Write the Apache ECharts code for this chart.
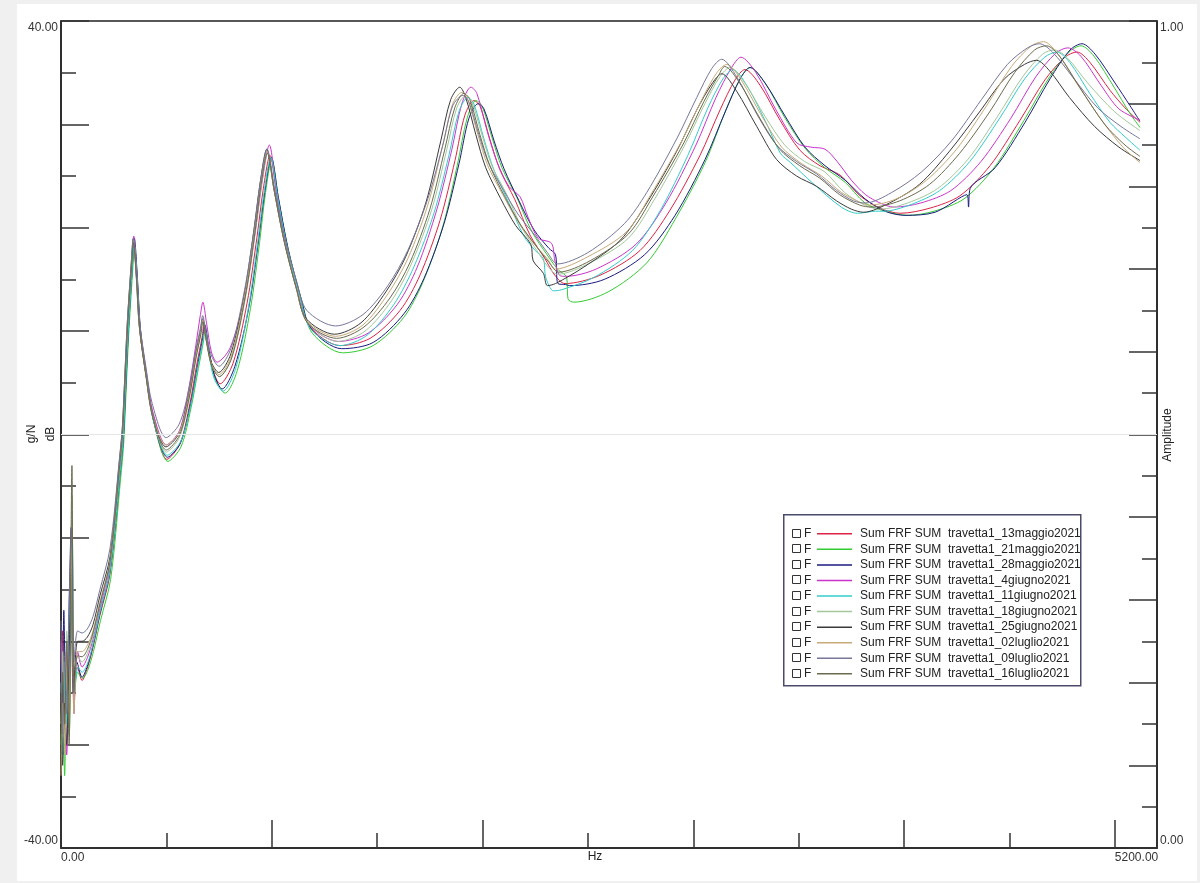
<!DOCTYPE html>
<html>
<head>
<meta charset="utf-8">
<title>FRF travetta1</title>
<script src="https://cdn.jsdelivr.net/npm/echarts@6/dist/echarts.min.js"></script>
<style>
  html, body { margin: 0; padding: 0; background: #f0f0f0; }
  #chart { position: absolute; left: 17px; top: 4px; width: 1180px; height: 877px; background: #ffffff; }
</style>
</head>
<body>
<div id="chart"></div>
<script>
// [Hz, dB] pairs
const d13maggio = [[0,-26],[8,-19],[16,-29],[26,-21],[38,-27],[52,-12],[62,-24],[80,-22.5],[104,-23.8],[130,-22.6],[158,-20.6],[192,-17.5],[242,-13.5],[291,-3.8],[306,-0.6],[316,3.6],[331,10],[350,15.9],[360,18.6],[375,15],[390,10],[424,5.2],[454,1.6],[523,-2.4],[587,-0.9],[636,3],[671,6.9],[696,9.4],[706,10.7],[725,8.4],[750,6.2],[785,4.9],[849,6.9],[918,12.7],[967,19.1],[997,23.6],[1031,27],[1066,23],[1115,18.1],[1179,13.3],[1229,10.4],[1377,8.6],[1525,9.3],[1673,12],[1771,15.4],[1870,20.7],[1944,26.5],[1993,30.9],[2038,32.3],[2067,31.8],[2117,28.5],[2166,25.6],[2240,22.7],[2314,19.3],[2388,17],[2437,15.4],[2487,14.6],[2659,15.4],[2857,17.8],[3005,21.7],[3153,27],[3252,31.4],[3326,34.3],[3375,35.3],[3449,33.8],[3548,30.4],[3646,27.5],[3745,26],[3844,25.1],[3942,23.1],[4041,21.9],[4140,21.4],[4288,21.9],[4436,23.1],[4584,26],[4732,30.4],[4855,34.3],[4954,36.5],[5013,37],[5077,36],[5176,33.3],[5250,31.6],[5324,30.2]];
const d21maggio = [[0,-30],[8,-24],[18,-33],[28,-25],[40,-29],[54,-14],[64,-26],[82,-23],[106,-23.6],[132,-22.8],[160,-21],[195,-18],[245,-14],[294,-4.3],[309,-1],[319,3.2],[334,9.6],[353,15.6],[363,18.2],[378,14.5],[393,9.6],[428,4.8],[458,1.2],[528,-2.6],[592,-1.2],[642,2.6],[678,6.4],[702,8.9],[712,10.2],[732,7.8],[760,5.4],[810,4],[870,6.2],[935,12.2],[980,18.6],[1008,23.2],[1040,26.6],[1075,22.6],[1125,17.6],[1190,12.8],[1240,9.8],[1390,7.9],[1540,8.6],[1690,11.3],[1785,14.7],[1882,20],[1955,26],[2004,30.6],[2048,32.3],[2077,31.8],[2127,28.7],[2176,25.8],[2250,22.9],[2324,19.6],[2398,17.4],[2450,16],[2495,15.2],[2502,13.1],[2530,12.8],[2700,13.8],[2890,16.6],[3030,20.8],[3178,26.3],[3277,31.2],[3351,34.4],[3400,35.5],[3474,34],[3573,30.6],[3671,27.7],[3770,25.8],[3869,24.4],[3967,22.4],[4066,21.6],[4180,21.2],[4308,21.6],[4456,22.8],[4604,25.8],[4752,30.4],[4875,34.5],[4974,37],[5033,37.6],[5097,36.6],[5196,33.6],[5270,31.2],[5324,29.7]];
const d28maggio = [[0,-22],[6,-28],[14,-17],[24,-26],[36,-20],[50,-9],[60,-25],[78,-22],[104,-23.5],[130,-22.4],[158,-20.4],[192,-17.3],[242,-13.2],[293,-3.5],[308,-0.3],[318,3.8],[333,10.2],[352,16.3],[362,19],[377,15.2],[392,10.2],[426,5.2],[456,1.4],[526,-2.2],[590,-0.8],[640,3],[675,6.8],[700,9.4],[710,10.6],[730,8.2],[756,5.8],[795,4.4],[858,6.6],[928,12.4],[975,18.8],[1005,23.4],[1038,26.8],[1072,23],[1120,18],[1185,13.1],[1235,10.2],[1385,8.3],[1540,8.9],[1693,11.7],[1791,15.1],[1890,20.4],[1964,26.2],[2013,30.6],[2058,32],[2087,31.5],[2137,28.4],[2186,25.7],[2260,22.6],[2334,19.8],[2408,18],[2440,17.4],[2452,14.6],[2490,14.5],[2510,14.4],[2680,15],[2880,17.4],[3030,21.2],[3178,26.6],[3277,31.2],[3351,34.4],[3400,35.5],[3474,34],[3573,30.8],[3671,27.8],[3770,26],[3869,24.6],[3967,22.8],[4066,21.6],[4165,21.2],[4313,21.5],[4470,23.2],[4478,22],[4486,23.8],[4609,25.8],[4757,30.2],[4880,34.4],[4979,37.2],[5038,37.8],[5102,36.8],[5201,34],[5275,31.8],[5324,30.3]];
const d4giugno = [[0,-20],[8,-30],[18,-24],[28,-31],[40,-22],[54,-8],[64,-27],[82,-21],[104,-22.5],[130,-21.6],[158,-19.8],[192,-16.8],[242,-12.6],[290,-3],[305,0],[315,4.2],[330,10.5],[349,16.4],[359,19.2],[374,15.6],[389,10.6],[423,5.8],[453,2.2],[520,-1],[585,0.4],[632,4.6],[665,8.6],[688,11.6],[700,12.8],[718,10.8],[742,8],[770,7],[835,8.4],[910,13.6],[960,19.8],[992,24.4],[1028,28],[1062,23.8],[1110,18.6],[1175,13.6],[1225,10.6],[1370,9],[1515,9.8],[1660,12.6],[1758,16.2],[1855,21.8],[1929,27.6],[1978,32],[2023,33.6],[2052,33],[2102,29.4],[2151,26.4],[2210,24],[2265,23],[2305,21],[2355,19],[2420,18.5],[2437,16.8],[2460,15.4],[2490,15.3],[2640,16],[2837,18.4],[2985,22.4],[3133,28],[3232,32.6],[3306,35.4],[3355,36.5],[3429,35],[3528,31.4],[3631,28.2],[3700,27.8],[3770,27.6],[3830,26.4],[3900,24.6],[3970,23.2],[4041,22.4],[4110,22],[4243,22.4],[4391,23.6],[4539,26.4],[4687,30.6],[4810,34.6],[4909,36.9],[4968,37.4],[5032,36.6],[5131,33.8],[5220,31.5],[5324,30.4]];
const d11giugno = [[0,-24],[10,-31],[20,-22],[30,-28],[42,-18],[56,-10],[66,-25],[84,-22.5],[104,-23],[130,-22.2],[158,-20.3],[192,-17.2],[242,-13.2],[292,-3.6],[307,-0.4],[317,3.8],[332,10],[351,15.8],[361,18.4],[376,14.8],[391,9.9],[425,5],[455,1.4],[525,-2],[590,-0.7],[640,2.8],[676,6.6],[700,9],[710,10.2],[730,7.8],[756,5.4],[800,4.2],[862,6.4],[926,12.4],[972,18.8],[1002,23.4],[1035,26.8],[1070,22.8],[1118,17.9],[1182,13.1],[1232,10.2],[1377,8.6],[1510,9.6],[1643,12.6],[1741,16.2],[1840,21.4],[1914,27],[1963,31.2],[2008,32.6],[2037,32],[2087,28.6],[2136,25.6],[2210,22.4],[2284,19.2],[2340,17.8],[2380,17],[2392,15.2],[2430,13.9],[2470,14],[2630,15.2],[2820,17.8],[2955,21.6],[3093,27],[3192,31.6],[3266,34.4],[3315,35.3],[3389,33.6],[3488,29.8],[3550,27.2],[3600,26.3],[3710,24.3],[3850,22],[3930,21.4],[4020,21.6],[4060,21.6],[4188,22.2],[4336,23.6],[4484,26.4],[4632,30.6],[4755,34.4],[4854,36.5],[4913,37],[4977,36],[5076,33],[5176,30.2],[5250,28.8],[5324,27.5]];
const d18giugno = [[0,-28],[8,-21],[18,-30],[28,-19],[40,-26],[54,-6],[64,-23],[82,-21.5],[104,-22],[130,-21.2],[158,-19.5],[192,-16.5],[242,-12.4],[290,-3],[304,0],[314,4.2],[329,10.6],[348,16.2],[358,18.8],[373,15.2],[388,10.3],[421,5.6],[451,2],[520,-1.7],[584,-0.3],[632,3.4],[666,7.4],[690,9.8],[700,11],[720,8.8],[745,6.6],[780,5.6],[842,7.4],[910,13.2],[958,19.5],[988,24],[1020,27.2],[1055,23.4],[1104,18.6],[1168,13.8],[1218,10.8],[1365,9],[1500,10],[1633,13],[1731,16.6],[1830,21.8],[1904,27.6],[1953,31.6],[1998,32.8],[2027,32.2],[2077,29],[2126,26],[2200,23.2],[2274,20],[2348,17.8],[2400,16.3],[2450,15.5],[2610,16.6],[2800,19],[2930,22.8],[3078,28],[3177,32],[3251,34.6],[3300,35.5],[3374,34],[3473,30.8],[3571,28],[3670,26.4],[3769,25.4],[3867,23.4],[3966,22.2],[4040,21.8],[4178,22.4],[4326,23.8],[4474,26.6],[4622,30.8],[4745,34.6],[4844,36.8],[4903,37.2],[4967,36.4],[5066,34],[5200,31.2],[5324,29.4]];
const d25giugno = [[0,-25],[8,-32],[18,-26],[28,-30],[40,-21],[52,-13],[64,-24],[82,-20],[104,-20],[130,-19.6],[158,-18.4],[192,-15.6],[242,-11.8],[288,-2.6],[302,0.4],[312,4.4],[327,10.8],[346,16.4],[356,18.9],[371,15.4],[386,10.5],[419,5.8],[449,2.2],[518,-1.2],[582,0.1],[630,3.8],[664,7.8],[688,10],[698,11.2],[717,9.2],[742,7],[778,6],[838,7.8],[905,13.6],[952,19.8],[983,24.4],[1015,27.6],[1050,23.8],[1098,19],[1160,14.2],[1210,11.2],[1350,9.7],[1480,10.8],[1603,13.8],[1701,17.2],[1800,22.4],[1874,28.4],[1923,32.4],[1968,33.6],[1997,32.6],[2047,29],[2096,25.8],[2170,22.8],[2244,20.2],[2318,18.4],[2330,16.8],[2380,15.6],[2400,14.4],[2440,14.6],[2580,16.2],[2760,18.8],[2890,22.4],[3038,27.4],[3137,31.4],[3211,33.9],[3260,34.9],[3334,33.2],[3433,29.8],[3531,26.6],[3630,25],[3729,24],[3827,22.6],[3900,21.8],[3960,21.5],[4088,22.4],[4236,24.2],[4384,27.4],[4532,31.2],[4655,34.4],[4754,35.8],[4813,36.2],[4877,35.2],[4976,32.6],[5100,29.8],[5220,27.8],[5324,26.5]];
const d02luglio = [[0,-33],[8,-26],[18,-31],[28,-23],[40,-28],[54,-11],[64,-27],[82,-21],[104,-21],[130,-20.4],[158,-19],[192,-16.2],[242,-12.2],[289,-2.8],[303,0.2],[313,4.2],[328,10.6],[347,16.2],[357,18.8],[372,15.2],[387,10.4],[420,5.6],[450,2],[519,-1],[583,0.2],[631,3.7],[665,7.6],[689,9.9],[699,11.1],[718,9],[743,6.8],[780,5.8],[840,7.6],[906,13.4],[954,19.6],[985,24.2],[1017,27.4],[1052,23.6],[1100,18.8],[1163,14],[1213,11],[1355,9.5],[1490,10.6],[1613,13.6],[1711,17],[1810,22.2],[1884,28],[1933,32],[1978,33.1],[2007,32.4],[2057,29],[2106,26],[2180,23.2],[2254,20.6],[2328,18.6],[2400,17],[2440,16],[2600,17.2],[2790,19.6],[2910,23.2],[3063,28.4],[3162,32.4],[3236,35],[3285,35.8],[3359,34.2],[3458,30.8],[3556,27.8],[3655,26.2],[3754,25],[3852,23.4],[3950,22.4],[3990,22.2],[4123,22.8],[4271,24.6],[4419,27.6],[4567,31.8],[4690,35.6],[4789,37.6],[4848,38],[4912,37],[5011,34],[5135,30.4],[5240,27.8],[5324,26.3]];
const d09luglio = [[0,-18],[8,-29],[18,-22],[28,-27],[40,-16],[54,-9],[64,-22],[82,-19],[104,-19.2],[130,-18.8],[158,-17.6],[192,-15],[242,-11],[289,-2.2],[303,0.8],[313,4.8],[328,11],[347,16.6],[357,19],[372,15.6],[387,11],[420,6.4],[450,3],[519,-0.3],[583,1],[631,4.4],[665,8.2],[689,10.4],[699,11.5],[718,9.6],[743,7.6],[780,6.6],[840,8.4],[906,14],[954,20],[985,24.6],[1017,27.6],[1052,24],[1100,19.4],[1163,14.8],[1213,12],[1355,10.5],[1490,11.6],[1613,14.4],[1711,17.8],[1810,22.8],[1884,28],[1933,31.8],[1983,32.8],[2012,32.2],[2062,29],[2111,26.2],[2185,23.6],[2259,21.2],[2333,19.4],[2400,17.6],[2450,16.5],[2600,17.6],[2780,20.4],[2890,23.4],[3038,28.6],[3137,32.6],[3211,35.4],[3260,36.3],[3334,34.6],[3433,31],[3531,28],[3630,26.4],[3729,25.2],[3827,23.6],[3910,22.6],[3970,22.4],[4098,23.4],[4246,25.4],[4394,28.4],[4542,32.4],[4670,35.8],[4769,37.4],[4828,37.8],[4892,37],[4991,34.6],[5115,31.6],[5230,29.8],[5324,28.6]];
const d16luglio = [[0,-31],[8,-23],[18,-28],[28,-20],[40,-30],[54,-3],[64,-25],[82,-21.4],[104,-21.5],[130,-20.8],[158,-19.2],[192,-16.4],[242,-12.3],[290,-2.9],[304,0.1],[314,4.1],[329,10.5],[348,16.1],[358,18.6],[373,15],[388,10.2],[421,5.4],[451,1.8],[520,-1.5],[584,-0.1],[632,3.5],[666,7.4],[690,9.7],[700,10.9],[719,8.8],[744,6.6],[782,5.6],[842,7.4],[908,13.2],[956,19.4],[986,24],[1018,27.2],[1054,23.4],[1102,18.6],[1166,13.8],[1216,10.8],[1360,9.3],[1495,10.4],[1623,13.2],[1721,16.6],[1820,21.8],[1894,27.6],[1943,31.6],[1988,33],[2017,32.4],[2067,29],[2116,26],[2190,23],[2264,20.4],[2338,18.4],[2410,16.6],[2455,15.7],[2610,16.8],[2800,19.4],[2920,23],[3073,28.2],[3172,32.2],[3246,34.8],[3275,35.6],[3349,34],[3448,30.6],[3546,27.6],[3645,26],[3744,24.8],[3842,23.2],[3940,22.2],[4000,22],[4138,22.6],[4286,24.2],[4434,27.2],[4582,31.2],[4705,35],[4804,37.2],[4863,37.6],[4927,36.6],[5026,33.6],[5150,30],[5250,28],[5324,26.9]];

const seriesNames = [
  'Sum FRF SUM  travetta1_13maggio2021',
  'Sum FRF SUM  travetta1_21maggio2021',
  'Sum FRF SUM  travetta1_28maggio2021',
  'Sum FRF SUM  travetta1_4giugno2021',
  'Sum FRF SUM  travetta1_11giugno2021',
  'Sum FRF SUM  travetta1_18giugno2021',
  'Sum FRF SUM  travetta1_25giugno2021',
  'Sum FRF SUM  travetta1_02luglio2021',
  'Sum FRF SUM  travetta1_09luglio2021',
  'Sum FRF SUM  travetta1_16luglio2021'
];
const seriesData = [d13maggio, d21maggio, d28maggio, d4giugno, d11giugno, d18giugno, d25giugno, d02luglio, d09luglio, d16luglio];
const seriesColors = ['#dd2244', '#33cc33', '#1a1a80', '#cc33cc', '#33cccc', '#a3c79b', '#3a3a3a', '#c8aa78', '#77779a', '#6b6b50'];

const xMin = 0, xMax = 5408, xLabels = [0, 5200];
const yMin = -40, yMax = 40;
const ampMin = 0, ampMax = 1;

const FONT = '"Liberation Sans", Arial, sans-serif';
const INK = '#222222';

const chart = echarts.init(document.getElementById('chart'));

const legendTop = 522;
const rowH = 15.56;
const legendBits = [
  { type: 'rect', left: 766, top: 510, shape: { width: 297, height: 171 }, style: { fill: '#ffffff', stroke: '#4a4a6a', lineWidth: 1.5 }, z: 5 }
];
seriesNames.forEach((n, i) => {
  const cy = legendTop + rowH / 2 + i * rowH;
  legendBits.push({ type: 'rect', shape: { x: 775.5, y: Math.round(cy) - 4.5, width: 8, height: 8 }, style: { fill: '#ffffff', stroke: '#333333', lineWidth: 1 }, z: 6 });
  legendBits.push({ type: 'text', x: 787, y: cy, style: { text: 'F', font: '12px ' + FONT, fill: INK, verticalAlign: 'middle' }, z: 6 });
});

const tickStyle = { color: '#333', width: 1.5 };

chart.setOption({
  animation: false,
  backgroundColor: '#ffffff',
  textStyle: { fontFamily: FONT },
  grid: {
    left: 44, right: 40, top: 17, bottom: 33,
    show: true, borderColor: INK, borderWidth: 1.5, backgroundColor: 'transparent'
  },
  legend: {
    orient: 'vertical',
    left: 800,
    top: legendTop,
    padding: 0,
    itemGap: 0,
    itemWidth: 35,
    itemHeight: 1.5,
    icon: 'rect',
    selectedMode: false,
    z: 7,
    textStyle: { fontSize: 12, color: INK, lineHeight: rowH, padding: [0, 0, 0, 3], fontFamily: FONT },
    data: seriesNames
  },
  xAxis: [{
    type: 'value', min: xMin, max: xMax, interval: 520, position: 'bottom',
    axisLine: { onZero: false, lineStyle: { color: INK, width: 1.5 } },
    axisTick: { inside: true, length: 15, lineStyle: tickStyle },
    axisLabel: {
      margin: 4, align: 'left', color: '#333', fontSize: 12, fontFamily: FONT,
      formatter: v => xLabels.indexOf(v) >= 0 ? v.toFixed(2) : ''
    },
    splitLine: { show: false }
  }, {
    type: 'value', min: xMin, max: xMax, interval: 1040, position: 'bottom',
    axisLine: { show: false, onZero: false },
    axisTick: { inside: true, length: 28, lineStyle: tickStyle },
    axisLabel: { show: false },
    splitLine: { show: false }
  }],
  yAxis: [{
    type: 'value', min: yMin, max: yMax, interval: 10, position: 'left',
    axisLine: { show: true, onZero: false, lineStyle: { color: INK, width: 1.5 } },
    axisTick: { show: true, inside: true, length: 28, lineStyle: tickStyle },
    minorTick: { show: true, splitNumber: 2, length: 15, lineStyle: tickStyle },
    axisLabel: {
      margin: 3, color: '#333', fontSize: 12, fontFamily: FONT,
      formatter: v => v === yMax ? '{t|' + v.toFixed(2) + '}' : (v === yMin ? '{b|' + v.toFixed(2) + '}' : ''),
      rich: { t: { padding: [14, 0, 0, 0], fontSize: 12, color: '#333' }, b: { padding: [0, 0, 14, 0], fontSize: 12, color: '#333' } }
    },
    splitLine: { show: false }
  }, {
    type: 'value', min: ampMin, max: ampMax, interval: 0.1, position: 'right',
    axisLine: { show: true, onZero: false, lineStyle: { color: INK, width: 1.5 } },
    axisTick: { show: true, inside: true, length: 28, lineStyle: tickStyle },
    minorTick: { show: true, splitNumber: 2, length: 15, lineStyle: tickStyle },
    axisLabel: {
      margin: 3, color: '#333', fontSize: 12, fontFamily: FONT,
      formatter: v => Math.abs(v - ampMax) < 1e-6 ? '{t|' + v.toFixed(2) + '}' : (Math.abs(v - ampMin) < 1e-6 ? '{b|' + v.toFixed(2) + '}' : ''),
      rich: { t: { padding: [14, 0, 0, 0], fontSize: 12, color: '#333' }, b: { padding: [0, 0, 14, 0], fontSize: 12, color: '#333' } }
    },
    splitLine: { show: false }
  }],
  graphic: [
    { type: 'text', x: 15, y: 430, rotation: Math.PI / 2, style: { text: 'g/N', font: '12px ' + FONT, fill: INK, align: 'center', verticalAlign: 'middle' } },
    { type: 'text', x: 34, y: 430, rotation: Math.PI / 2, style: { text: 'dB', font: '12px ' + FONT, fill: INK, align: 'center', verticalAlign: 'middle' } },
    { type: 'text', x: 1151, y: 431, rotation: Math.PI / 2, style: { text: 'Amplitude', font: '12px ' + FONT, fill: INK, align: 'center', verticalAlign: 'middle' } },
    { type: 'text', x: 578, y: 853, style: { text: 'Hz', font: '12px ' + FONT, fill: INK, align: 'center', verticalAlign: 'middle' } }
  ].concat(legendBits),
  series: seriesNames.map((name, i) => ({
    name,
    type: 'line',
    xAxisIndex: 0,
    yAxisIndex: 0,
    data: seriesData[i],
    showSymbol: false,
    symbol: 'none',
    smooth: 0.3,
    color: seriesColors[i],
    lineStyle: { width: 1, color: seriesColors[i] },
    markLine: i === 0 ? {
      silent: true, symbol: ['none', 'none'], label: { show: false },
      lineStyle: { color: '#e6e6e6', type: 'solid', width: 1 },
      data: [{ yAxis: 0 }]
    } : undefined
  }))
});
</script>
</body>
</html>
